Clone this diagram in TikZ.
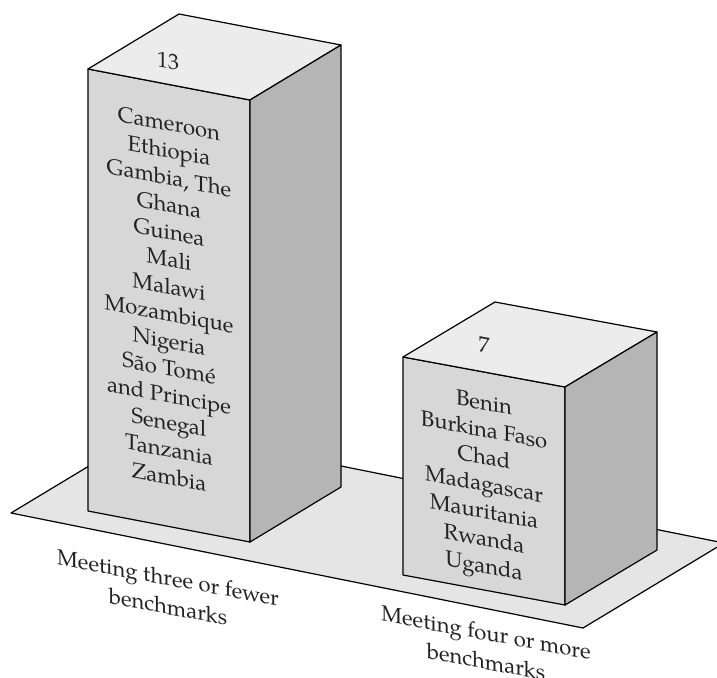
\documentclass[tikz,border=0pt]{standalone}
\usepackage{fontspec}
\setmainfont{TeX Gyre Pagella}
\definecolor{floorgray}{gray}{0.90}
\definecolor{topgray}{gray}{0.925}
\definecolor{frontgray}{gray}{0.845}
\definecolor{sidegray}{gray}{0.71}
\definecolor{inkgray}{gray}{0.13}
\begin{document}
\begin{tikzpicture}[x=1pt,y=-1pt,
  edge/.style={draw=black, line width=1.2pt, line join=round},
  facetext/.style={yslant=-0.19, align=center, text=inkgray,
    font=\fontsize{22}{27.2}\selectfont, inner sep=0pt},
  axislabel/.style={yslant=-0.185, align=center, text=inkgray,
    font=\fontsize{22}{29}\selectfont, inner sep=0pt}]
\useasboundingbox (0,0) rectangle (717,677);

% floor plane
\coordinate (fl) at (11,513);
\coordinate (fr) at (583,628);
\coordinate (br) at (724,543);
\coordinate (bl) at (152,428);
\fill[floorgray] (fl) -- (fr) -- (br) -- (bl) -- cycle;
\draw[edge] (bl) -- (fl) -- (fr) -- (br) -- cycle;

% tall block
\coordinate (t1) at (88,69);
\coordinate (t2) at (250,100);
\coordinate (t3) at (250,542);
\coordinate (t4) at (88,511);
\coordinate (t5) at (179,14);
\coordinate (t6) at (341,45);
\coordinate (t7) at (341,487);
\filldraw[edge, fill=frontgray] (t1) -- (t2) -- (t3) -- (t4) -- cycle;
\filldraw[edge, fill=topgray] (t1) -- (t5) -- (t6) -- (t2) -- cycle;
\filldraw[edge, fill=sidegray] (t2) -- (t6) -- (t7) -- (t3) -- cycle;

% short block
\coordinate (s1) at (403,357);
\coordinate (s2) at (565,387);
\coordinate (s3) at (565,605);
\coordinate (s4) at (403,575);
\coordinate (s5) at (495,302);
\coordinate (s6) at (657,332);
\coordinate (s7) at (657,550);
\filldraw[edge, fill=frontgray] (s1) -- (s2) -- (s3) -- (s4) -- cycle;
\filldraw[edge, fill=topgray] (s1) -- (s5) -- (s6) -- (s2) -- cycle;
\filldraw[edge, fill=sidegray] (s2) -- (s6) -- (s7) -- (s3) -- cycle;

% counts on the top faces
\node[facetext] (count13) at (168,61) {13};
\node[facetext] (count7) at (484,345) {7};

% country lists on the front faces
\node[facetext] (listA) at (169,300) {Cameroon\\Ethiopia\\Gambia, The\\Ghana\\Guinea\\Mali\\Malawi\\Mozambique\\Nigeria\\São Tomé\\and Principe\\Senegal\\Tanzania\\Zambia};
\node[facetext] (listB) at (484,487) {Benin\\Burkina Faso\\Chad\\Madagascar\\Mauritania\\Rwanda\\Uganda};

% category labels below the floor
\node[axislabel] (catA) at (168,592) {Meeting three or fewer\\benchmarks};
\node[axislabel] (catB) at (486,647) {Meeting four or more\\benchmarks};
\end{tikzpicture}
\end{document}
